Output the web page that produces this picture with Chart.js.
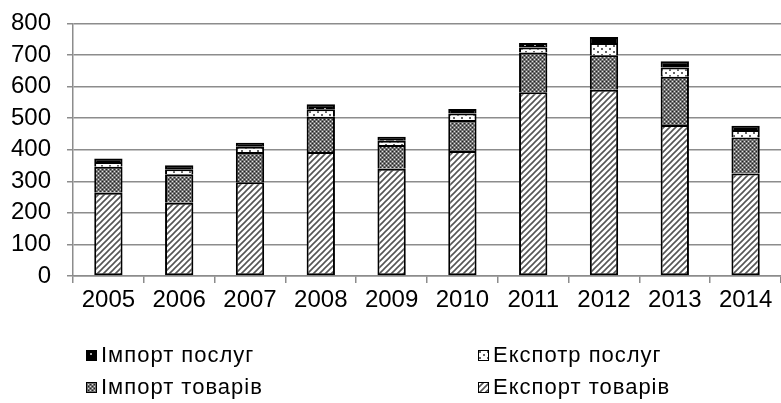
<!DOCTYPE html>
<html>
<head>
<meta charset="utf-8">
<script src="https://cdn.jsdelivr.net/npm/chart.js@4"></script>
<style>
    html, body { margin: 0; padding: 0; background: #fff; overflow: hidden; }
    #wrap { position: relative; width: 781px; height: 403px; overflow: hidden; }
    #tradeChart { position: absolute; left: 0; top: -7px; }
    #legend { position: absolute; left: 0; top: 0; width: 781px; height: 403px; pointer-events: none;
              font-family: "Liberation Sans", Arial, sans-serif; font-size: 22px; color: #000; }
    .item { position: absolute; display: flex; align-items: center; letter-spacing: 1px; white-space: nowrap; }
    .item canvas { margin-right: 4px; }
</style>
</head>
<body>
<div id="wrap">
    <canvas id="tradeChart" width="781" height="410"></canvas>
    <div id="legend"></div>
</div>
<script>
// ========== 数据 ==========
const years = ['2005', '2006', '2007', '2008', '2009', '2010', '2011', '2012', '2013', '2014'];
const exportGoods    = [264, 232, 297, 393, 340, 396, 582, 590, 478, 325];
const importGoods    = [82, 90, 96, 111, 75, 98, 126, 109, 153, 114];
const exportServices = [15, 16, 16, 24, 13, 21, 16, 39, 29, 23];
const importServices = [11, 13, 13, 16, 13, 14, 14, 19, 20, 14];
const yTicks = [0, 100, 200, 300, 400, 500, 600, 700, 800];

// ========== 填充图案 ==========
function makeTile(w, h, draw) {
    const c = document.createElement('canvas');
    c.width = w; c.height = h;
    draw(c.getContext('2d'));
    return c;
}

const tiles = {
    // 斜线
    exportGoods: makeTile(6, 6, g => {
        g.fillStyle = '#fff'; g.fillRect(0, 0, 6, 6);
        g.strokeStyle = '#555'; g.lineWidth = 1.6;
        g.beginPath();
        g.moveTo(-1, 7); g.lineTo(7, -1);
        g.moveTo(-4, 4); g.lineTo(4, -4);
        g.moveTo(2, 10); g.lineTo(10, 2);
        g.stroke();
    }),
    // 细密网点
    importGoods: makeTile(4, 4, g => {
        g.fillStyle = '#707070'; g.fillRect(0, 0, 4, 4);
        g.fillStyle = '#e0e0e0'; g.fillRect(0, 0, 1, 1); g.fillRect(2, 2, 1, 1);
        g.fillStyle = '#222'; g.fillRect(2, 0, 1, 1); g.fillRect(0, 2, 1, 1);
    }),
    // 白底稀疏点
    exportServices: makeTile(8, 6, g => {
        g.fillStyle = '#fff'; g.fillRect(0, 0, 8, 6);
        g.fillStyle = '#666'; g.fillRect(1, 1, 2, 2); g.fillRect(5, 4, 2, 2);
    }),
    // 黑底白点
    importServices: makeTile(10, 8, g => {
        g.fillStyle = '#000'; g.fillRect(0, 0, 10, 8);
        g.fillStyle = '#aaa'; g.fillRect(4, 3, 2, 2);
    })
};

const ctx = document.getElementById('tradeChart').getContext('2d');
const patterns = {};
Object.keys(tiles).forEach(k => { patterns[k] = ctx.createPattern(tiles[k], 'repeat'); });

// 底部段画完整边框, 上面的段不画底边, 避免分隔线过粗
function barSet(label, data, key, isBase) {
    return {
        label: label,
        data: data,
        backgroundColor: patterns[key],
        borderColor: '#000',
        borderWidth: { top: 2, left: 2, right: 2, bottom: isBase ? 2 : 0 },
        borderSkipped: false,
        categoryPercentage: 1,
        barPercentage: 0.4
    };
}

// ========== 图表 ==========
const gridGray = '#8c8c8c';
const tickFont = { family: '"Liberation Sans", Arial, sans-serif', size: 24 };

new Chart(ctx, {
    type: 'bar',
    data: {
        labels: years,
        datasets: [
            barSet('Експорт товарів', exportGoods, 'exportGoods', true),
            barSet('Імпорт товарів', importGoods, 'importGoods'),
            barSet('Експотр послуг', exportServices, 'exportServices'),
            barSet('Імпорт послуг', importServices, 'importServices')
        ]
    },
    options: {
        responsive: false,
        animation: false,
        layout: { padding: { top: 16, right: 0, bottom: 87, left: 0 } },
        plugins: { legend: { display: false }, tooltip: { enabled: false } },
        scales: {
            x: {
                stacked: true,
                grid: { drawOnChartArea: false, drawTicks: true, tickLength: 7, color: gridGray, lineWidth: 1.5 },
                border: { color: gridGray, width: 1.5 },
                ticks: { color: '#000', font: tickFont, padding: 3, maxRotation: 0, autoSkip: false },
                afterFit: s => { s.height = 40; }
            },
            y: {
                stacked: true,
                min: 0,
                max: 800,
                afterBuildTicks: s => { s.ticks = yTicks.map(v => ({ value: v })); },
                grid: { color: gridGray, lineWidth: 1.5, tickLength: 6 },
                border: { color: gridGray, width: 1.5 },
                ticks: { color: '#000', font: tickFont, padding: 16, autoSkip: false },
                afterFit: s => { s.width = 73; }
            }
        }
    }
});

// ========== 图例 ==========
const legendItems = [
    { label: 'Імпорт послуг', key: 'importServices', x: 86, y: 355 },
    { label: 'Експотр послуг', key: 'exportServices', x: 478, y: 355 },
    { label: 'Імпорт товарів', key: 'importGoods', x: 86, y: 387 },
    { label: 'Експорт товарів', key: 'exportGoods', x: 478, y: 387 }
];
const legendBox = document.getElementById('legend');
legendItems.forEach(it => {
    const div = document.createElement('div');
    div.className = 'item';
    div.style.left = it.x + 'px';
    div.style.top = (it.y - 13) + 'px';
    const sw = document.createElement('canvas');
    sw.width = 11; sw.height = 11;
    const g = sw.getContext('2d');
    g.fillStyle = g.createPattern(tiles[it.key], 'repeat');
    g.fillRect(0, 0, 11, 11);
    g.strokeStyle = '#000'; g.lineWidth = 1;
    g.strokeRect(0.5, 0.5, 10, 10);
    div.appendChild(sw);
    div.appendChild(document.createTextNode(it.label));
    legendBox.appendChild(div);
});
</script>
</body>
</html>
